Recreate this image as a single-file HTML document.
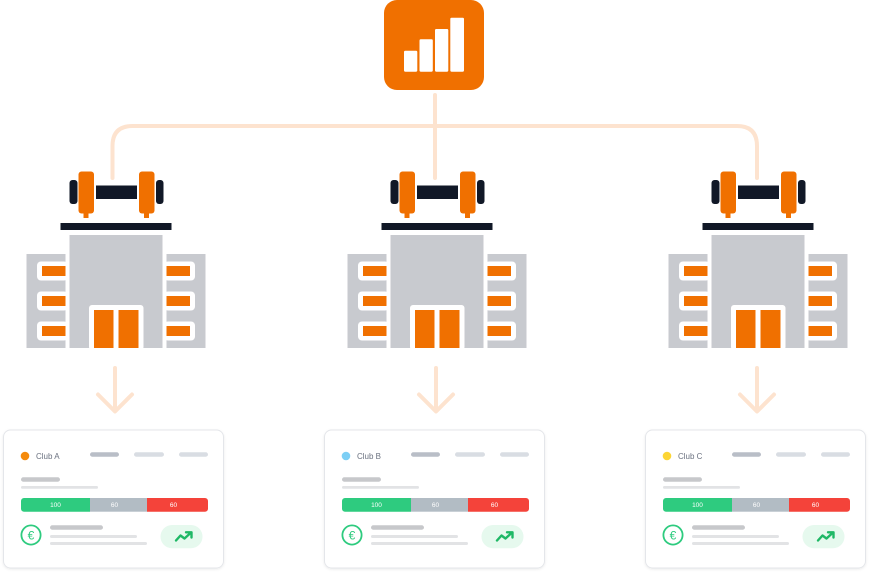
<!DOCTYPE html>
<html>
<head>
<meta charset="utf-8">
<style>
  html,body{margin:0;padding:0;background:#fff;}
  body{width:869px;height:572px;overflow:hidden;}
  svg{display:block;font-family:"Liberation Sans",Arial,sans-serif;}
</style>
</head>
<body>
<svg width="869" height="572" viewBox="0 0 869 572" xmlns="http://www.w3.org/2000/svg">
  <defs>
    <filter id="sh" x="-10%" y="-10%" width="120%" height="125%">
      <feDropShadow dx="0" dy="1" stdDeviation="1.2" flood-color="#000" flood-opacity="0.08"/>
    </filter>
    <g id="bld">
      <!-- dumbbell -->
      <rect x="69.5" y="180" width="8" height="24" rx="3" fill="#111827"/>
      <rect x="78.5" y="171.5" width="15.5" height="42" rx="3" fill="#f07000"/>
      <rect x="83.5" y="211" width="5" height="7" fill="#f07000"/>
      <rect x="96" y="185.5" width="41" height="13.5" fill="#111827"/>
      <rect x="139" y="171.5" width="15.5" height="42" rx="3" fill="#f07000"/>
      <rect x="144" y="211" width="5" height="7" fill="#f07000"/>
      <rect x="156" y="180" width="7.5" height="24" rx="3" fill="#111827"/>
      <!-- platform -->
      <rect x="60.5" y="223" width="111" height="7" fill="#111827"/>
      <!-- building -->
      <rect x="69.5" y="235" width="93" height="113" fill="#c8cacf"/>
      <rect x="26.5" y="254" width="39" height="94" fill="#c8cacf"/>
      <rect x="166.5" y="254" width="39" height="94" fill="#c8cacf"/>
      <!-- left windows -->
      <rect x="37" y="261.5" width="31" height="19" rx="4" fill="#fff"/>
      <rect x="42" y="266" width="23.5" height="10" fill="#f07000"/>
      <rect x="37" y="291.5" width="31" height="19" rx="4" fill="#fff"/>
      <rect x="42" y="296" width="23.5" height="10" fill="#f07000"/>
      <rect x="37" y="321.5" width="31" height="19" rx="4" fill="#fff"/>
      <rect x="42" y="326" width="23.5" height="10" fill="#f07000"/>
      <!-- right windows -->
      <rect x="164" y="261.5" width="31" height="19" rx="4" fill="#fff"/>
      <rect x="166.5" y="266" width="23.5" height="10" fill="#f07000"/>
      <rect x="164" y="291.5" width="31" height="19" rx="4" fill="#fff"/>
      <rect x="166.5" y="296" width="23.5" height="10" fill="#f07000"/>
      <rect x="164" y="321.5" width="31" height="19" rx="4" fill="#fff"/>
      <rect x="166.5" y="326" width="23.5" height="10" fill="#f07000"/>
      <!-- door -->
      <rect x="89" y="305" width="54.5" height="45" rx="3" fill="#fff"/>
      <rect x="94" y="310" width="19.5" height="38" fill="#f07000"/>
      <rect x="118.5" y="310" width="20" height="38" fill="#f07000"/>
    </g>
    <g id="cardbase">
      <rect x="3.5" y="430" width="220" height="138" rx="7" fill="#fff" stroke="#e4e6ea" stroke-width="1" filter="url(#sh)"/>
      <rect x="90" y="452.3" width="29" height="4.4" rx="2.2" fill="#b9bec7"/>
      <rect x="134" y="452.3" width="30" height="4.4" rx="2.2" fill="#d9dde3"/>
      <rect x="179" y="452.3" width="29" height="4.4" rx="2.2" fill="#d9dde3"/>
      <rect x="21" y="477.3" width="39" height="4.4" rx="2.2" fill="#c7c8cb"/>
      <rect x="21" y="486" width="77" height="2.8" rx="1.4" fill="#e2e3e5"/>
      <path d="M24 498 H90 V511.7 H24 A3 3 0 0 1 21 508.7 V501 A3 3 0 0 1 24 498 Z" fill="#2ecb7f"/>
      <rect x="90" y="498" width="57" height="13.7" fill="#b2bcc4"/>
      <path d="M147 498 H205 A3 3 0 0 1 208 501 V508.7 A3 3 0 0 1 205 511.7 H147 Z" fill="#f4433a"/>
      <text x="55.5" y="507.2" font-size="6.5" fill="#fff" text-anchor="middle">100</text>
      <text x="114.5" y="507.2" font-size="6.5" fill="#fff" text-anchor="middle">60</text>
      <text x="173.5" y="507.2" font-size="6.5" fill="#fff" text-anchor="middle">60</text>
      <circle cx="31" cy="535" r="9.6" fill="none" stroke="#2ecb7f" stroke-width="1.8"/>
      <text x="31" y="539.3" font-size="12" fill="#2ecb7f" text-anchor="middle">€</text>
      <rect x="50" y="525.3" width="53" height="4.4" rx="2.2" fill="#c7c8cb"/>
      <rect x="50" y="535" width="87" height="3" rx="1.5" fill="#e2e3e5"/>
      <rect x="50" y="542" width="97" height="3" rx="1.5" fill="#e2e3e5"/>
      <rect x="160.5" y="525" width="42" height="23.3" rx="11.6" fill="#e6f9ee"/>
      <polyline points="176,540.5 180.5,535.5 184.5,538.5 190.5,533" fill="none" stroke="#1fb866" stroke-width="2.4" stroke-linejoin="round" stroke-linecap="round"/>
      <polyline points="186,532.3 191.5,532.3 191.5,537.5" fill="none" stroke="#1fb866" stroke-width="2.4" stroke-linejoin="round" stroke-linecap="round"/>
    </g>
  </defs>

  <!-- top icon -->
  <rect x="384" y="0" width="100" height="90" rx="13" fill="#f07000"/>
  <rect x="404" y="50.7" width="13.3" height="21" rx="1.2" fill="#fff"/>
  <rect x="419.5" y="39.3" width="13.3" height="32.4" rx="1.2" fill="#fff"/>
  <rect x="435" y="29" width="13.3" height="42.7" rx="1.2" fill="#fff"/>
  <rect x="450.3" y="17.7" width="13.7" height="54" rx="1.2" fill="#fff"/>

  <!-- connectors -->
  <g fill="none" stroke="#fde3cf" stroke-width="4" stroke-linecap="round" stroke-linejoin="round">
    <path d="M112.5 178 V146 Q112.5 126 132.5 126 H737 Q757 126 757 146 V178"/>
    <path d="M435 95 V178"/>
    <path d="M115 368 V411"/>
    <path d="M98 394.5 L115 411.5 L132 394.5"/>
    <path d="M436 368 V411"/>
    <path d="M419 394.5 L436 411.5 L453 394.5"/>
    <path d="M757 368 V411"/>
    <path d="M740 394.5 L757 411.5 L774 394.5"/>
  </g>

  <!-- buildings -->
  <use href="#bld"/>
  <use href="#bld" transform="translate(321,0)"/>
  <use href="#bld" transform="translate(642,0)"/>

  <!-- cards -->
  <use href="#cardbase"/>
  <circle cx="25" cy="456" r="4.3" fill="#f58a0b"/>
  <text x="36" y="459" font-size="8" fill="#6b7280">Club A</text>

  <use href="#cardbase" transform="translate(321,0)"/>
  <circle cx="346" cy="456" r="4.3" fill="#7dcff5"/>
  <text x="357" y="459" font-size="8" fill="#6b7280">Club B</text>

  <use href="#cardbase" transform="translate(642,0)"/>
  <circle cx="667" cy="456" r="4.3" fill="#fcd535"/>
  <text x="678" y="459" font-size="8" fill="#6b7280">Club C</text>
</svg>
</body>
</html>
